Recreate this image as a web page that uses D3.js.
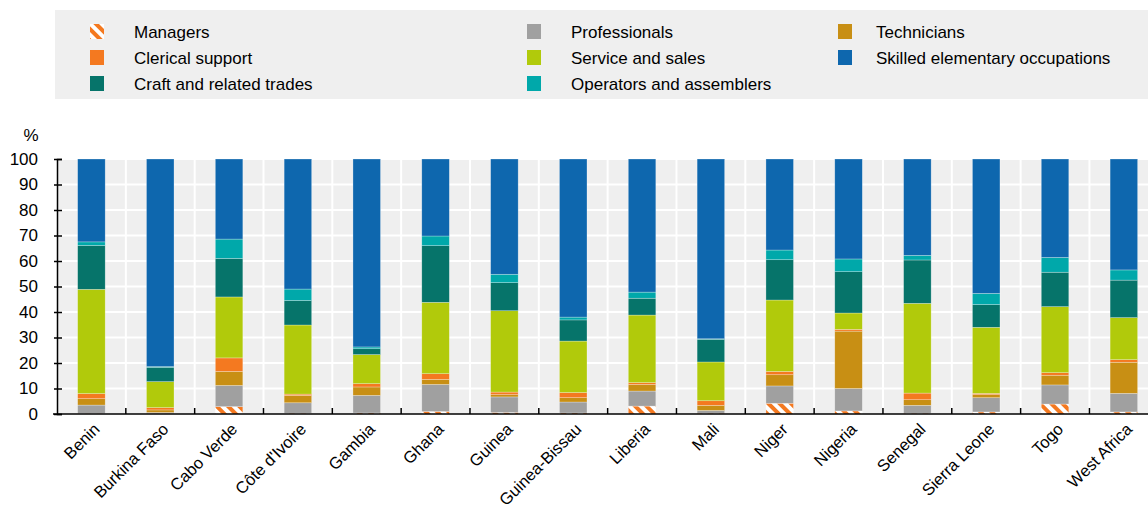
<!DOCTYPE html>
<html><head><meta charset="utf-8">
<script src="https://cdn.jsdelivr.net/npm/d3@7"></script>
<style>
body{margin:0;background:#fff;}
svg text{font-family:Arial,"Liberation Sans",sans-serif;fill:#000;}
</style></head>
<body><svg id="c" width="1148" height="510"></svg>
<script>
const categories = ["Benin","Burkina Faso","Cabo Verde","Côte d'Ivoire","Gambia","Ghana","Guinea","Guinea-Bissau","Liberia","Mali","Niger","Nigeria","Senegal","Sierra Leone","Togo","West Africa"];
const seriesNames = ["Managers","Professionals","Technicians","Clerical support","Service and sales","Craft and related trades","Operators and assemblers","Skilled elementary occupations"];
const managers      = [0.2,0.2,2.9,0.3,0.4,1.0,0.6,0.4,3.1,0.3,4.2,1.2,0.3,0.8,3.9,0.8];
const professionals = [3.3,0.4,8.3,4.1,6.9,10.6,6.1,4.3,5.9,1.1,6.8,8.8,3.1,5.6,7.5,7.3];
const technicians   = [2.5,1.0,5.5,2.9,3.3,2.0,0.9,1.7,2.6,2.0,4.4,22.5,2.2,1.2,3.8,12.2];
const clerical      = [2.0,0.9,5.3,0.5,1.3,2.2,1.0,2.0,0.7,1.8,1.3,0.7,2.6,0.5,1.0,1.0];
const service       = [40.9,10.2,23.9,27.1,11.4,28.0,31.9,20.2,26.5,15.2,28.0,6.4,35.2,25.9,25.9,16.5];
const craft         = [17.2,5.6,15.1,9.6,2.3,22.2,11.0,8.3,6.6,8.9,15.8,16.2,17.0,8.9,13.5,14.7];
const operators     = [1.4,0.3,7.6,4.5,0.7,3.8,3.3,1.1,2.4,0.2,3.8,5.0,1.8,4.4,5.8,4.0];
const skilled       = [32.5,81.4,31.4,51.0,73.7,30.2,45.2,62.0,52.2,70.5,35.7,39.2,37.8,52.7,38.6,43.5];
const yTicks = [0,10,20,30,40,50,60,70,80,90,100];

const seriesValues = [managers,professionals,technicians,clerical,service,craft,operators,skilled];
const colors = ["url(#hatch)","#a0a0a0","#c88f14","#f47920","#b1ca0b","#06746a","#00a8aa","#0e67ae"];

const svg = d3.select("#c");
const defs = svg.append("defs");
const pat = defs.append("pattern").attr("id","hatch").attr("patternUnits","userSpaceOnUse")
  .attr("width",8).attr("height",8).attr("patternTransform","rotate(-45)");
pat.append("rect").attr("width",8).attr("height",8).attr("fill","#fff");
pat.append("rect").attr("width",4).attr("height",8).attr("fill","#f47920");

const rows = categories.map((c,i)=>{
  const o={cat:c};
  seriesNames.forEach((s,j)=>o[s]=seriesValues[j][i]);
  return o;
});
const stacked = d3.stack().keys(seriesNames)(rows);

const pLeft=57, pTop=159, pBottom=414;
const step=68.83;
const pRight = pLeft+step*categories.length;
const x = d3.scaleBand().domain(categories).range([pLeft,pRight]).paddingInner(0.6).paddingOuter(0.3);
const y = d3.scaleLinear().domain([0,100]).range([pBottom,pTop]);

// plot background
svg.append("rect").attr("x",pLeft).attr("y",pTop).attr("width",pRight-pLeft).attr("height",pBottom-pTop).attr("fill","#efefef");
// horizontal grid
svg.append("g").selectAll("line").data(yTicks.filter(d=>d>0)).join("line")
  .attr("x1",pLeft).attr("x2",pRight)
  .attr("y1",d=>y(d)).attr("y2",d=>y(d)).attr("stroke","#fff").attr("stroke-width",2);
// vertical grid at category boundaries
const bounds = categories.map((c,i)=>x(c)+x.bandwidth()/2+x.step()/2);
svg.append("g").selectAll("line").data(bounds).join("line")
  .attr("x1",d=>d).attr("x2",d=>d).attr("y1",pTop).attr("y2",pBottom).attr("stroke","#fff").attr("stroke-width",2);

// bars
svg.append("g").selectAll("g").data(stacked).join("g")
  .attr("fill",(d,i)=>colors[i])
  .selectAll("rect").data(d=>d).join("rect")
  .attr("x",d=>x(d.data.cat)).attr("width",x.bandwidth())
  .attr("y",d=>y(d[1])).attr("height",d=>Math.max(0,y(d[0])-y(d[1])))
  .attr("stroke","rgba(255,255,255,0.45)").attr("stroke-width",0.6);

// y axis
const yAxis = svg.append("g").attr("transform",`translate(${pLeft},0)`)
  .call(d3.axisLeft(y).tickValues(yTicks).tickSize(-5).tickPadding(19));
yAxis.select(".domain").attr("stroke","#000").attr("stroke-width",1.5);
yAxis.selectAll(".tick line").attr("stroke","#000").attr("stroke-width",1.5).attr("x1",-3);
yAxis.selectAll("text").style("font-size","17px").attr("fill","#000");
svg.append("text").attr("x",31).attr("y",141).attr("text-anchor","middle").style("font-size","17px").text("%");

// x axis
const xg = svg.append("g").attr("transform",`translate(0,${pBottom})`);
xg.append("line").attr("x1",pLeft-4).attr("x2",pRight).attr("stroke","#000").attr("stroke-width",1.5);
xg.selectAll("line.t").data(bounds).join("line").attr("class","t")
  .attr("x1",d=>d).attr("x2",d=>d).attr("y1",0).attr("y2",-6).attr("stroke","#000").attr("stroke-width",1.5);
xg.selectAll("text").data(categories).join("text")
  .attr("transform",d=>`translate(${x(d)+x.bandwidth()/2+1},8) rotate(-45)`)
  .attr("text-anchor","end").attr("dy","0.71em").style("font-size","16.5px").text(d=>d);

// legend
svg.append("rect").attr("x",55).attr("y",10).attr("width",1093).attr("height",89).attr("fill","#efefef");
const legendPos = [[90,32],[527,32],[838,32],[90,58],[527,58],[838,58],[90,84],[527,84]];
const legendOrder = ["Managers","Professionals","Technicians","Clerical support","Service and sales","Skilled elementary occupations","Craft and related trades","Operators and assemblers"];
const lg = svg.append("g").selectAll("g").data(legendOrder).join("g")
  .attr("transform",(d,i)=>`translate(${legendPos[i][0]},${legendPos[i][1]})`);
lg.append("rect").attr("x",0).attr("y",-8).attr("width",14).attr("height",15)
  .attr("fill",d=>colors[seriesNames.indexOf(d)]);
lg.append("text").attr("x",(d,i)=>i%3===2?38:44).attr("y",0).attr("dy","0.35em").style("font-size","17px").text(d=>d);
</script></body></html>
